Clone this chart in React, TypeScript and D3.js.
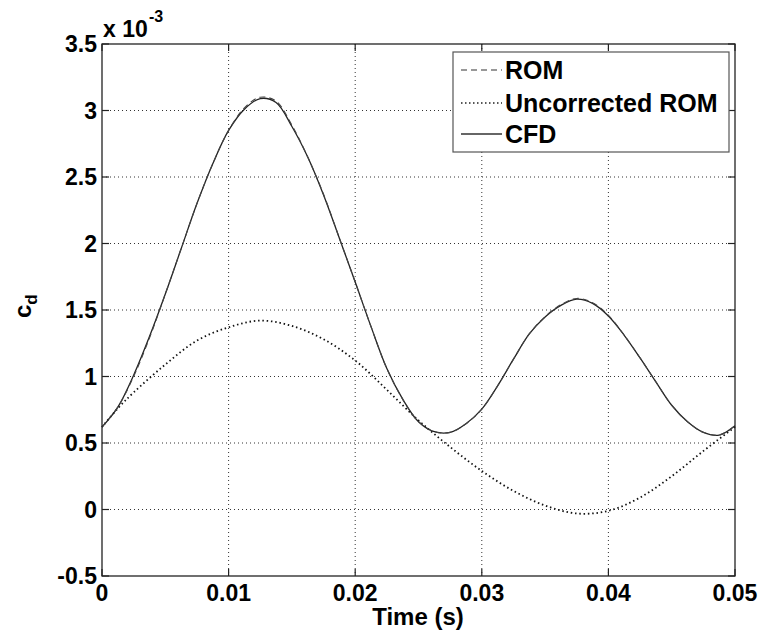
import React from "react";
import * as d3 from "d3";

const timeCFD = [0, 0.00125, 0.0025, 0.00375, 0.005, 0.00625, 0.0075, 0.00875, 0.01, 0.01125, 0.0125, 0.01375, 0.015, 0.01625, 0.0175, 0.01875, 0.02, 0.02125, 0.0225, 0.02375, 0.025, 0.02625, 0.0275, 0.02875, 0.03, 0.03125, 0.0325, 0.03375, 0.035, 0.03625, 0.0375, 0.03875, 0.04, 0.04125, 0.0425, 0.04375, 0.045, 0.04625, 0.0475, 0.04875, 0.05];
const cfdValues = [0.62, 0.77, 1.01, 1.3, 1.62, 1.96, 2.3, 2.6, 2.85, 3.01, 3.09, 3.06, 2.88, 2.65, 2.365, 2.04, 1.71, 1.375, 1.06, 0.83, 0.66, 0.585, 0.58, 0.645, 0.755, 0.93, 1.13, 1.32, 1.448, 1.535, 1.582, 1.55, 1.455, 1.31, 1.14, 0.96, 0.784, 0.66, 0.58, 0.56, 0.63];
const romValues = [0.62, 0.77, 1.0, 1.29, 1.62, 1.96, 2.3, 2.6, 2.85, 3.02, 3.1, 3.07, 2.89, 2.65, 2.37, 2.04, 1.71, 1.375, 1.06, 0.83, 0.66, 0.585, 0.58, 0.645, 0.755, 0.93, 1.13, 1.32, 1.45, 1.54, 1.587, 1.555, 1.46, 1.31, 1.14, 0.96, 0.784, 0.66, 0.58, 0.56, 0.63];

const timeUnc = [0, 0.00125, 0.0025, 0.005, 0.0075, 0.01, 0.0125, 0.015, 0.0175, 0.02, 0.0225, 0.025, 0.0275, 0.03, 0.0325, 0.035, 0.0375, 0.04, 0.0425, 0.045, 0.0475, 0.05];
const uncValues = [0.62, 0.76, 0.88, 1.09, 1.27, 1.37, 1.42, 1.38, 1.28, 1.12, 0.9, 0.67, 0.47, 0.29, 0.14, 0.03, -0.03, -0.01, 0.09, 0.25, 0.44, 0.62];

const xTicks = [0, 0.01, 0.02, 0.03, 0.04, 0.05];
const xTickLabels = ["0", "0.01", "0.02", "0.03", "0.04", "0.05"];
const yTicks = [-0.5, 0, 0.5, 1, 1.5, 2, 2.5, 3, 3.5];
const yTickLabels = ["-0.5", "0", "0.5", "1", "1.5", "2", "2.5", "3", "3.5"];
const legendLabels = ["ROM", "Uncorrected ROM", "CFD"];

const W = 768, H = 634;
const L = 102, R = 735, T = 44, B = 576;
const FONT = "'Liberation Sans', Arial, sans-serif";

export default function App() {
  const x = d3.scaleLinear().domain([0, 0.05]).range([L, R]);
  const y = d3.scaleLinear().domain([-0.5, 3.5]).range([B, T]);
  const line = d3.line<[number, number]>().x(d => x(d[0])).y(d => y(d[1])).curve(d3.curveCatmullRom.alpha(0.5));
  const cfd = line(timeCFD.map((t, i) => [t, cfdValues[i]]))!;
  const rom = line(timeCFD.map((t, i) => [t, romValues[i]]))!;
  const unc = line(timeUnc.map((t, i) => [t, uncValues[i]]))!;
  const tick = 7;
  const legendStyles = [
    { dash: "6 4", w: 1.2, color: "#333" },
    { dash: "1.5 2.5", w: 1.6, color: "#222" },
    { dash: "none", w: 1.3, color: "#333" },
  ];
  const legY = [70, 103, 134];
  return (
    <svg width={W} height={H} style={{ position: "absolute", left: 0, top: 0, background: "#fff" }} fontFamily={FONT}>
      <rect x={0} y={0} width={W} height={H} fill="#fff" />
      {xTicks.slice(1, -1).map(t => (
        <line key={"gx" + t} x1={x(t)} x2={x(t)} y1={T} y2={B} stroke="#333" strokeWidth={1} strokeDasharray="1 3" />
      ))}
      {yTicks.slice(1, -1).map(t => (
        <line key={"gy" + t} x1={L} x2={R} y1={y(t)} y2={y(t)} stroke="#333" strokeWidth={1} strokeDasharray="1 3" />
      ))}
      <path d={unc} fill="none" stroke="#111" strokeWidth={1.8} strokeDasharray="1.5 2.8" />
      <path d={cfd} fill="none" stroke="#222" strokeWidth={1.3} />
      <path d={rom} fill="none" stroke="#444" strokeWidth={1.1} strokeDasharray="6 4" />
      <rect x={L} y={T} width={R - L} height={B - T} fill="none" stroke="#222" strokeWidth={1.3} />
      {xTicks.map(t => (
        <g key={"tx" + t}>
          <line x1={x(t)} x2={x(t)} y1={B} y2={B - tick} stroke="#222" strokeWidth={1.2} />
          <line x1={x(t)} x2={x(t)} y1={T} y2={T + tick} stroke="#222" strokeWidth={1.2} />
        </g>
      ))}
      {yTicks.map(t => (
        <g key={"ty" + t}>
          <line x1={L} x2={L + tick} y1={y(t)} y2={y(t)} stroke="#222" strokeWidth={1.2} />
          <line x1={R} x2={R - tick} y1={y(t)} y2={y(t)} stroke="#222" strokeWidth={1.2} />
        </g>
      ))}
      {xTicks.map((t, i) => (
        <text key={"lx" + t} x={x(t)} y={601} textAnchor="middle" fontSize={23} fontWeight="bold" fill="#000">{xTickLabels[i]}</text>
      ))}
      {yTicks.map((t, i) => (
        <text key={"ly" + t} x={97} y={y(t) + 8} textAnchor="end" fontSize={23} fontWeight="bold" fill="#000">{yTickLabels[i]}</text>
      ))}
      <text x={103} y={37} fontSize={23} fontWeight="bold" fill="#000">x 10</text>
      <text x={149} y={22} fontSize={16} fontWeight="bold" fill="#000">-3</text>
      <text x={418} y={625} textAnchor="middle" fontSize={24} fontWeight="bold" fill="#000">Time (s)</text>
      <g transform="translate(31,318) rotate(-90)">
        <text x={0} y={0} fontSize={24} fontWeight="bold" fill="#000">c<tspan fontSize={17} dy={6}>d</tspan></text>
      </g>
      <rect x={453} y={52} width={276} height={100} fill="#fff" stroke="#555" strokeWidth={1.2} />
      {legendLabels.map((lab, i) => (
        <g key={lab}>
          <line x1={461} x2={502} y1={legY[i]} y2={legY[i]} stroke={legendStyles[i].color} strokeWidth={legendStyles[i].w} strokeDasharray={legendStyles[i].dash} />
          <text x={505} y={legY[i] + 9} fontSize={25} fontWeight="bold" fill="#000">{lab}</text>
        </g>
      ))}
    </svg>
  );
}
